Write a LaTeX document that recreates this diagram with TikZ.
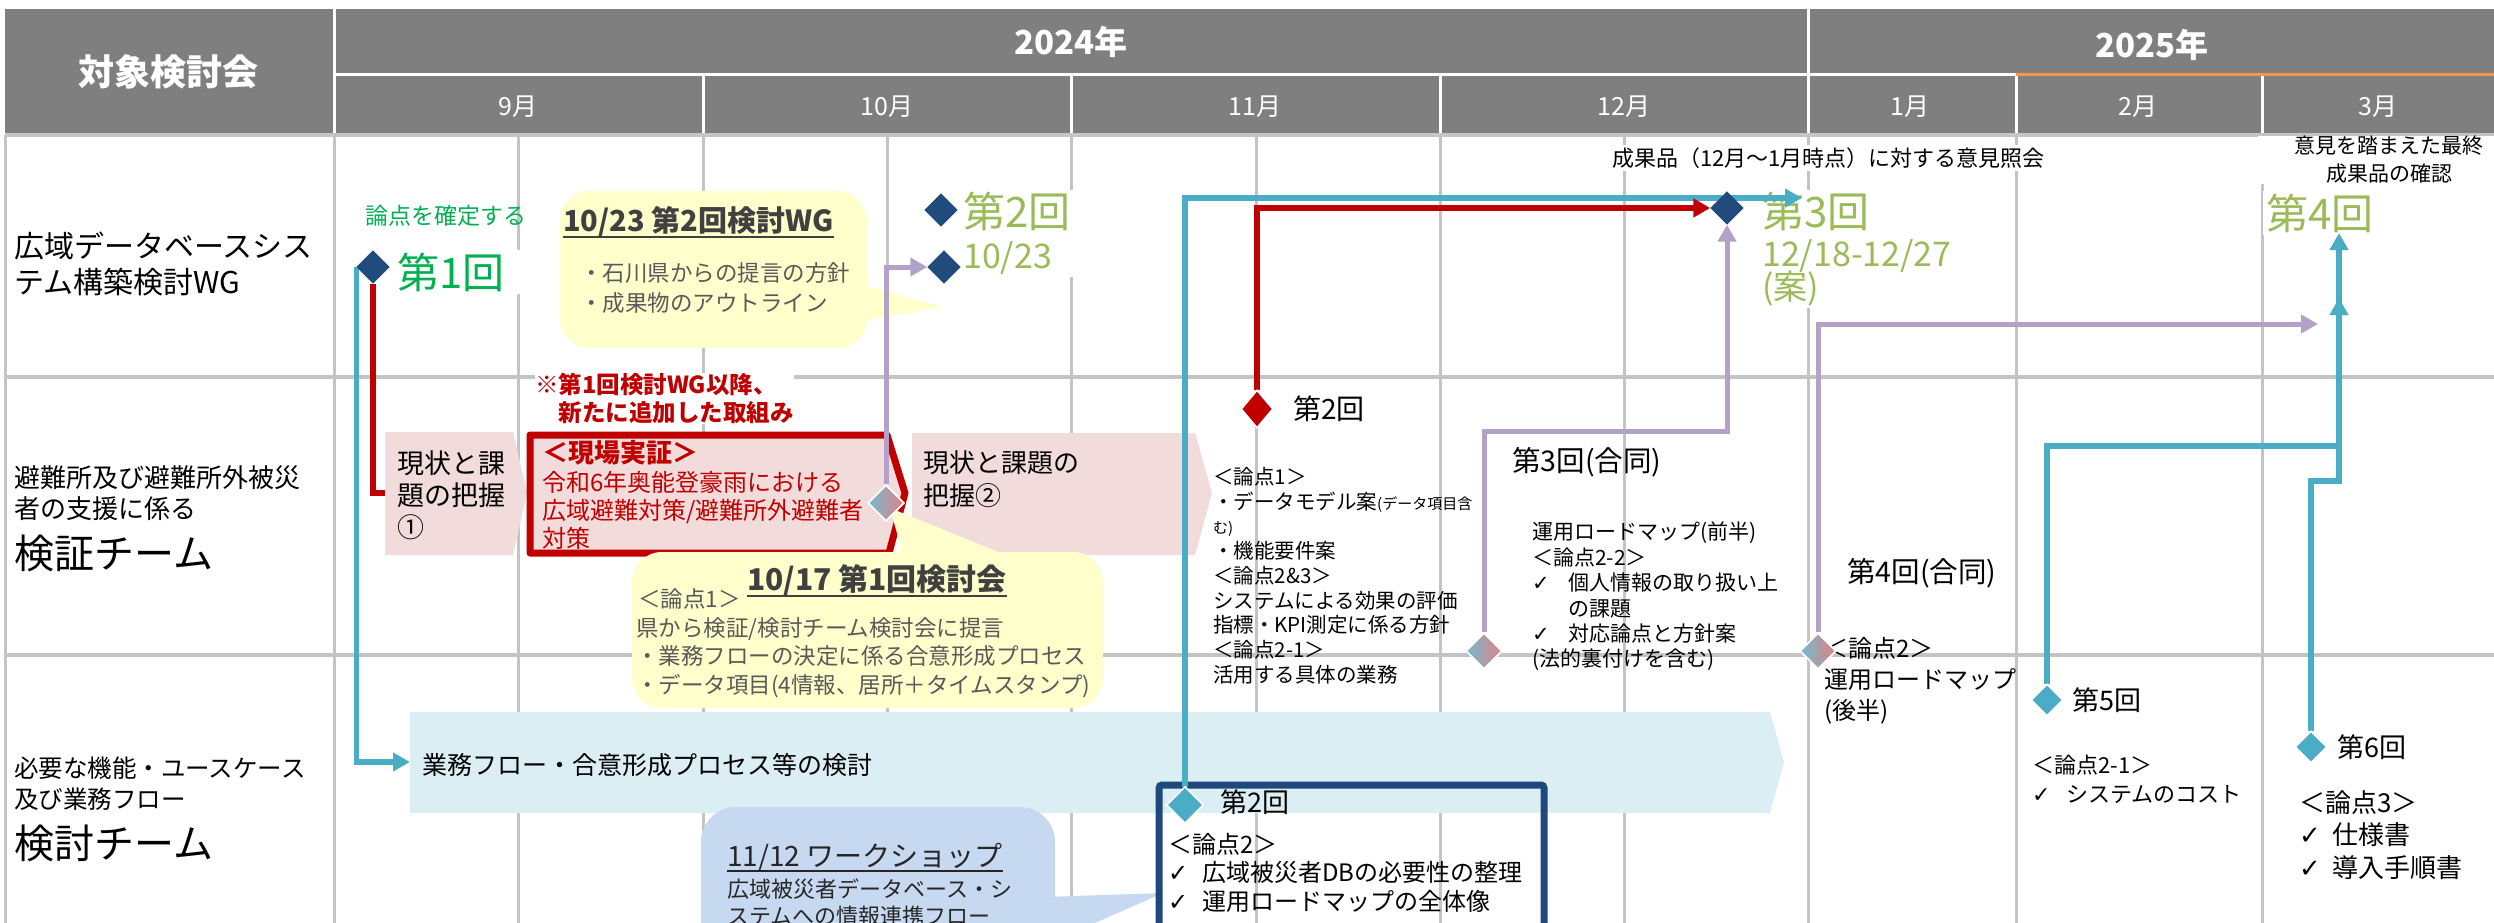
\documentclass[tikz,border=0pt]{standalone}
\usepackage{fontspec}
\setmainfont{Noto Sans CJK JP}
\newfontfamily\symfont{DejaVu Sans}
\usetikzlibrary{shapes.geometric,arrows.meta}
\newcommand{\fsz}[2]{\fontsize{#1pt}{#2pt}\selectfont}
\newcommand{\chk}[1]{\makebox[#1][l]{{\symfont ✓}}}
\definecolor{hdr}{HTML}{7F7F7F}
\definecolor{gridc}{HTML}{C4C4C4}
\definecolor{navy}{HTML}{224B7D}
\definecolor{cteal}{HTML}{4BACC6}
\definecolor{cred}{HTML}{C00000}
\definecolor{cpurple}{HTML}{B3A2C7}
\definecolor{cgreen}{HTML}{00B050}
\definecolor{colive}{HTML}{9BBB59}
\definecolor{cpink}{HTML}{F2DCDB}
\definecolor{clblue}{HTML}{DAEEF3}
\definecolor{cyellow}{HTML}{FFFFCC}
\definecolor{ccallb}{HTML}{C6D9F1}
\definecolor{cgraytxt}{HTML}{595959}
\definecolor{ctitle}{HTML}{404040}
\definecolor{corange}{HTML}{F79646}
\definecolor{crose}{HTML}{E57F82}
\definecolor{cboxblue}{HTML}{1F497D}
\begin{document}
\begin{tikzpicture}[x=1pt,y=-1pt,
  txt/.style={inner sep=0pt, anchor=west},
  ml/.style={inner sep=0pt, anchor=north west, align=left},
  dia/.style={diamond, inner sep=0pt, minimum width=33pt, minimum height=33pt},
  gdia/.style={diamond, inner sep=0pt, minimum width=36pt, minimum height=36pt, draw=white, line width=1.5pt, left color=cteal!80, middle color=cpink, right color=crose},
  tealln/.style={draw=cteal, line width=5.5pt},
  redln/.style={draw=cred, line width=6pt},
  purpln/.style={draw=cpurple, line width=5pt},
  arr/.style={-{Triangle[length=17pt,width=18pt]}},
  hdrtxt/.style={text=white, inner sep=0pt}
]
\useasboundingbox (0,0) rectangle (2494,923);
\clip (0,0) rectangle (2494,923);
\fill[white] (0,0) rectangle (2494,923);

% ---------- header ----------
\fill[hdr] (5,9) rectangle (2494,133);
\draw[white, line width=3pt] (334,9) -- (334,133) (1808,9) -- (1808,133) (334,75) -- (2494,75);
\foreach \x in {703,1071,1440,2016,2262} \draw[white, line width=3pt] (\x,75) -- (\x,133);
\draw[corange, line width=3pt] (2016,75) -- (2494,75);
\node[hdrtxt, font={\fsz{36}{40}\bfseries}] (hA) at (168,72) {対象検討会};
\node[hdrtxt, font={\fsz{33}{38}\bfseries}] (y24) at (1071,42) {2024年};
\node[hdrtxt, font={\fsz{33}{38}\bfseries}] (y25) at (2152,45) {2025年};
\node[hdrtxt, font={\fsz{25}{30}}] (m9) at (518,107) {9月};
\node[hdrtxt, font={\fsz{25}{30}}] (m10) at (887,107) {10月};
\node[hdrtxt, font={\fsz{25}{30}}] (m11) at (1255,107) {11月};
\node[hdrtxt, font={\fsz{25}{30}}] (m12) at (1624,107) {12月};
\node[hdrtxt, font={\fsz{25}{30}}] (m1) at (1910,107) {1月};
\node[hdrtxt, font={\fsz{25}{30}}] (m2) at (2138,107) {2月};
\node[hdrtxt, font={\fsz{25}{30}}] (m3) at (2378,107) {3月};

% ---------- grid ----------
\foreach \x in {5,334,518,703,887,1071,1256,1440,1624,1808,2016,2262} \draw[gridc, line width=3pt] (\x,135) -- (\x,923);
\foreach \y in {135,377,655} \draw[gridc, line width=4pt] (5,\y) -- (2494,\y);

% ---------- shapes ----------
\fill[cpink] (385,432) -- (513,432) -- (527,493) -- (513,555) -- (385,555) -- cycle;
\filldraw[fill=cpink, draw=cred, line width=7pt, line join=round] (530,435) -- (887,435) -- (905,493) -- (889,553) -- (530,553) -- cycle;
\fill[cpink] (912,433) -- (1195,433) -- (1212,493) -- (1195,555) -- (912,555) -- cycle;
\fill[clblue] (410,712) -- (1770,712) -- (1784,762) -- (1770,813) -- (410,813) -- cycle;
\fill[cyellow, rounded corners=30pt] (560,191) rectangle (867,348);
\fill[cyellow] (855,283) -- (943,307) -- (855,322) -- cycle;
\fill[cyellow, rounded corners=30pt] (632,552) rectangle (1103,708);
\fill[cyellow] (905,562) -- (890,508) -- (1023,562) -- cycle;
\fill[ccallb, rounded corners=35pt] (701,807) rectangle (1055,1000);
\fill[ccallb] (1045,897) -- (1163,893) -- (1045,945) -- cycle;
\draw[cboxblue, line width=7pt, rounded corners=3pt] (1159,1000) -- (1159,785) -- (1544,785) -- (1544,1000);

% ---------- left column ----------
\node[ml, font={\fsz{30}{36}}] (L1) at (14,232) {広域データベースシス\\テム構築検討WG};
\node[ml, font={\fsz{26}{31}}] (L2) at (14,465) {避難所及び避難所外被災\\者の支援に係る};
\node[txt, font={\fsz{40}{44}}] (L2b) at (14,553) {検証チーム};
\node[ml, font={\fsz{24.5}{31}}] (L3) at (14,757) {必要な機能・ユースケース\\及び業務フロー};
\node[txt, font={\fsz{40}{44}}] (L3b) at (14,843) {検討チーム};

% ---------- row 1 texts ----------
\node[txt, text=cgreen, font={\fsz{23}{26}}] (kpt) at (365,216) {論点を確定する};
\node[txt, fill=white, inner xsep=17pt, inner ysep=3pt, text=cgreen, font={\fsz{42}{46}}] (t1) at (380,272) {第1回};
\node[txt, text=ctitle, font={\fsz{29}{34}\bfseries}] (c1t) at (563,222) {10/23 第2回検討WG};
\draw[ctitle, line width=2pt] (c1t.south west) -- (c1t.south east);
\node[ml, text=cgraytxt, font={\fsz{22.5}{30}}] (c1b) at (580,262) {・石川県からの提言の方針\\・成果物のアウトライン};
\node[ml, fill=white, inner sep=2pt, text=colive, font={\fsz{34}{41}}] (t2) at (961,190) {{\fsz{42}{41}第2回}\\10/23};
\node[txt, fill=white, inner ysep=3pt, text=black, font={\fsz{22}{26}}] (res) at (1612,158) {成果品（12月～1月時点）に対する意見照会};
\node[ml, fill=white, inner sep=2pt, text=colive, font={\fsz{34}{39}}] (t3) at (1760,190) {{\fsz{42}{39}第3回}\\12/18-12/27\\[-6pt](案)};
\node[fill=white, inner xsep=0pt, inner ysep=0pt, minimum width=262pt, align=center, font={\fsz{21}{28}}] (fin) at (2389,160) {意見を踏まえた最終\\成果品の確認};
\node[txt, fill=white, inner sep=3pt, text=colive, font={\fsz{42}{46}}] (t4) at (2263,213) {第4回};

% ---------- row 2 texts ----------
\node[ml, fill=white, text=cred, font={\fsz{23.5}{28}\bfseries}] (note) at (535,373) {※第1回検討WG以降、\\　新たに追加した取組み};
\node[ml, font={\fsz{27}{32}}] (pb1t) at (397,451) {現状と課\\題の把握\\①};
\node[txt, text=cred, font={\fsz{26}{30}\bfseries}] (rb1) at (542,453) {＜現場実証＞};
\node[ml, text=cred, font={\fsz{24}{28}}] (rb2) at (542,471) {令和6年奥能登豪雨における\\広域避難対策/避難所外避難者\\対策};
\node[ml, font={\fsz{26}{33}}] (pb2t) at (923,450) {現状と課題の\\把握②};
\node[txt, font={\fsz{28}{32}}] (rdt) at (1293,409) {第2回};
\node[ml, font={\fsz{20.5}{24.75}}] (b1) at (1213,467) {＜論点1＞\\・データモデル案{\fsz{15}{24.75}(データ項目含}\\{\fsz{15}{24.75}む)}\\・機能要件案\\＜論点2\&3＞\\システムによる効果の評価\\指標・KPI測定に係る方針\\＜論点2-1＞\\活用する具体の業務};
\node[txt, font={\fsz{28.5}{32}}] (j3) at (1512,462) {第3回(合同)};
\node[ml, font={\fsz{21}{25.4}}] (b2) at (1532,522) {運用ロードマップ(前半)\\＜論点2-2＞\\\chk{36pt}個人情報の取り扱い上\\\hspace*{36pt}の課題\\\chk{36pt}対応論点と方針案\\(法的裏付けを含む)};
\node[txt, font={\fsz{28.5}{32}}] (j4) at (1847,573) {第4回(合同)};
\node[ml, font={\fsz{24}{31}}] (b3) at (1824,637) {＜論点2＞\\運用ロードマップ\\(後半)};

% ---------- row 3 texts ----------
\node[txt, font={\fsz{25}{30}}] (lbt) at (422,765) {業務フロー・合意形成プロセス等の検討};
\node[txt, text=ctitle, font={\fsz{30}{34}\bfseries}] (c2t) at (747,580) {10/17 第1回検討会};
\draw[ctitle, line width=2pt] (c2t.south west) -- (c2t.south east);
\node[txt, text=cgraytxt, font={\fsz{22.5}{26}}] (c2a) at (638,599) {＜論点1＞};
\node[ml, text=cgraytxt, font={\fsz{22.5}{28.5}}] (c2b) at (636,617) {県から検証/検討チーム検討会に提言\\・業務フローの決定に係る合意形成プロセス\\・データ項目(4情報、居所＋タイムスタンプ)};
\node[txt, text=black!85, font={\fsz{28}{32}}] (c3t) at (727,857) {11/12 ワークショップ};
\draw[black!85, line width=2pt] (c3t.south west) -- (c3t.south east);
\node[ml, text=black!85, font={\fsz{22}{27}}] (c3b) at (727,879) {広域被災者データベース・シ\\ステムへの情報連携フロー};
\node[txt, font={\fsz{27}{30}}] (bxt) at (1220,802) {第2回};
\node[ml, font={\fsz{24}{28.5}}] (bx) at (1168,833) {＜論点2＞\\\chk{34pt}広域被災者DBの必要性の整理\\\chk{34pt}運用ロードマップの全体像};
\node[txt, font={\fsz{27}{30}}] (t5) at (2072,700) {第5回};
\node[ml, font={\fsz{22}{29}}] (b5) at (2032,755) {＜論点2-1＞\\\chk{34pt}システムのコスト};
\node[txt, font={\fsz{27}{30}}] (t6) at (2337,747) {第6回};
\node[ml, font={\fsz{26}{32.5}}] (b6) at (2299,790) {＜論点3＞\\\chk{33pt}仕様書\\\chk{33pt}導入手順書};

% ---------- diamonds (positions) ----------
\path (373,267) node[dia] (d1) {};
\path (941,210) node[dia] (d2a) {};
\path (944,267) node[dia] (d2b) {};
\path (1727,208) node[dia] (d3) {};
\path (1257,409) node[diamond, inner sep=0pt, minimum width=31pt, minimum height=37pt] (rd) {};
\path (886,503) node[gdia] (g1) {};
\path (1484,651) node[gdia] (g2) {};
\path (1818,651) node[gdia] (g3) {};
\path (1185,805) node[dia, minimum width=36pt, minimum height=36pt] (tq2) {};
\path (2047,700) node[dia, minimum width=31pt, minimum height=31pt] (tq5) {};
\path (2311,747) node[dia, minimum width=31pt, minimum height=31pt] (tq6) {};
\coordinate (lbw) at (410,762);
\coordinate (pb1w) at (385,493);
\coordinate (t3tip) at (1802,198);
\coordinate (p2c) at (1600,431);
\coordinate (p3tip) at (2318,324);
\coordinate (q5c) at (2200,446);
\coordinate (q6c) at (2325,481);
\coordinate (t4tipA) at (2339,233);
\coordinate (t4tipB) at (2339,298);

% ---------- connectors ----------
\draw[tealln, arr] (d1.west) |- (lbw);
\draw[redln] (d1.south) |- (pb1w);
\draw[purpln, arr] (g1.north) |- (d2b.west);
\draw[tealln, arr] (tq2.north) |- (t3tip);
\draw[redln, arr] (rd.north) |- (d3.west);
\draw[purpln, arr] (g2.north) |- (p2c) -| (d3.south);
\draw[purpln, arr] (g3.north) |- (p3tip);
\draw[tealln, arr] (tq5.north) |- (q5c) -| (t4tipA);
\draw[tealln, arr] (tq6.north) |- (q6c) -| (t4tipB);

% ---------- diamonds (drawn on top) ----------
\fill[navy] (d1.north) -- (d1.east) -- (d1.south) -- (d1.west) -- cycle;
\fill[navy] (d2a.north) -- (d2a.east) -- (d2a.south) -- (d2a.west) -- cycle;
\fill[navy] (d2b.north) -- (d2b.east) -- (d2b.south) -- (d2b.west) -- cycle;
\fill[navy] (d3.north) -- (d3.east) -- (d3.south) -- (d3.west) -- cycle;
\filldraw[fill=cred, draw=white, line width=1.5pt] (rd.north) -- (rd.east) -- (rd.south) -- (rd.west) -- cycle;
\filldraw[fill=cteal, draw=white, line width=1.5pt] (tq2.north) -- (tq2.east) -- (tq2.south) -- (tq2.west) -- cycle;
\filldraw[fill=cteal, draw=white, line width=1.5pt] (tq5.north) -- (tq5.east) -- (tq5.south) -- (tq5.west) -- cycle;
\filldraw[fill=cteal, draw=white, line width=1.5pt] (tq6.north) -- (tq6.east) -- (tq6.south) -- (tq6.west) -- cycle;
\node[gdia] at (g1) {};
\node[gdia] at (g2) {};
\node[gdia] at (g3) {};
\end{tikzpicture}
\end{document}
